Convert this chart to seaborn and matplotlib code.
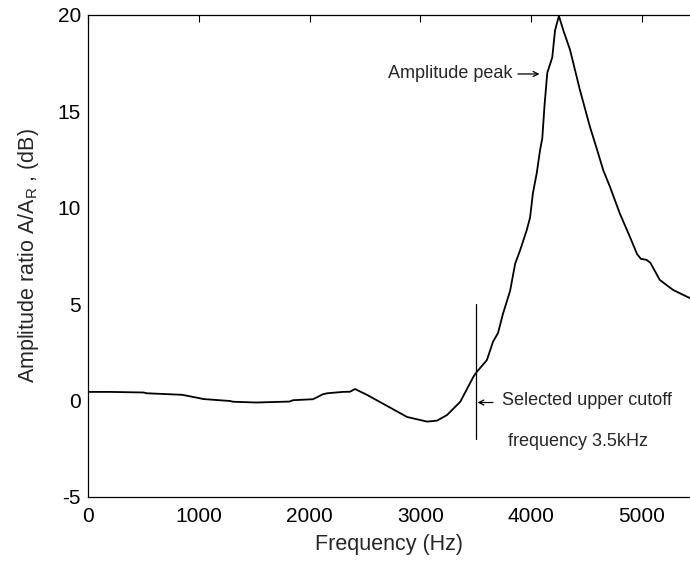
import matplotlib
matplotlib.use("Agg")
import matplotlib.pyplot as plt
import seaborn as sns
import pandas as pd

freq_hz = [0, 200, 500, 530, 850, 1010, 1040, 1280, 1310, 1520, 1820, 1850, 2030, 2070,
           2120, 2160, 2300, 2365, 2410, 2520, 2700, 2880, 3060, 3150, 3240, 3360, 3475,
           3500, 3600, 3655, 3700, 3745, 3810, 3855, 3900, 3960, 3990, 4015, 4050, 4080,
           4100, 4120, 4145, 4190, 4215, 4250, 4290, 4350, 4440, 4530, 4595, 4650, 4710, 4800,
           4890, 4955, 4990, 5040, 5075, 5160, 5280, 5405, 5440]
amp_db = [0.45, 0.45, 0.42, 0.38, 0.30, 0.12, 0.08, -0.02, -0.06, -0.10, -0.05, 0.02, 0.07, 0.18,
          0.33, 0.38, 0.45, 0.46, 0.60, 0.29, -0.28, -0.85, -1.09, -1.04, -0.75, -0.06, 1.20,
          1.43, 2.10, 3.05, 3.50, 4.50, 5.70, 7.10, 7.80, 8.85, 9.50, 10.75, 11.80, 13.00,
          13.60, 15.30, 17.00, 17.80, 19.20, 19.95, 19.20, 18.20, 16.10, 14.20, 13.00, 11.95, 11.10, 9.70,
          8.50, 7.60, 7.35, 7.30, 7.15, 6.26, 5.74, 5.39, 5.30]

cutoff_hz = 3500
cutoff_span = [-2, 5]
x_ticks = [0, 1000, 2000, 3000, 4000, 5000]
y_ticks = [-5, 0, 5, 10, 15, 20]

df = pd.DataFrame({"freq": freq_hz, "amp": amp_db})

sns.set_style("white")
plt.rcParams["font.family"] = ["Liberation Sans", "DejaVu Sans"]
plt.rcParams["mathtext.default"] = "regular"
plt.rcParams["axes.unicode_minus"] = False

fig = plt.figure(figsize=(6.9, 5.61), dpi=100)
ax = fig.add_axes([0.1275, 0.1141, 0.8725, 0.8592])

sns.lineplot(data=df, x="freq", y="amp", ax=ax, color="black", linewidth=1.3)
ax.plot([cutoff_hz, cutoff_hz], cutoff_span, color="black", linewidth=0.9)

ax.set_xlim(0, 5433)
ax.set_ylim(-5, 20)
ax.set_xticks(x_ticks)
ax.set_yticks(y_ticks)
ax.tick_params(axis="both", direction="in", length=5, width=0.8, labelsize=15,
               top=True, right=False, colors="black")
ax.tick_params(axis="x", pad=7)
ax.tick_params(axis="y", pad=5)

for side in ["left", "bottom", "top"]:
    ax.spines[side].set_visible(True)
    ax.spines[side].set_color("black")
    ax.spines[side].set_linewidth(0.9)
ax.spines["right"].set_visible(False)

ax.set_xlabel("Frequency (Hz)", fontsize=15.5, labelpad=6)
ax.set_ylabel("Amplitude ratio A/A$_R$ , (dB)", fontsize=15.5, labelpad=12)

arrow_kw = dict(arrowstyle="->", color="black", lw=0.9, mutation_scale=9,
                shrinkA=0, shrinkB=0)
ax.text(2707, 16.94, "Amplitude peak", fontsize=13, va="center", ha="left")
ax.annotate("", xy=(4075, 16.94), xytext=(3880, 16.94), arrowprops=arrow_kw)
ax.annotate("", xy=(3515, -0.1), xytext=(3655, -0.1), arrowprops=arrow_kw)
ax.text(3736, 0.0, "Selected upper cutoff", fontsize=13, va="center", ha="left")
ax.text(3790, -2.13, "frequency 3.5kHz", fontsize=13, va="center", ha="left")

fig.savefig("out.png", dpi=100, facecolor="white")
